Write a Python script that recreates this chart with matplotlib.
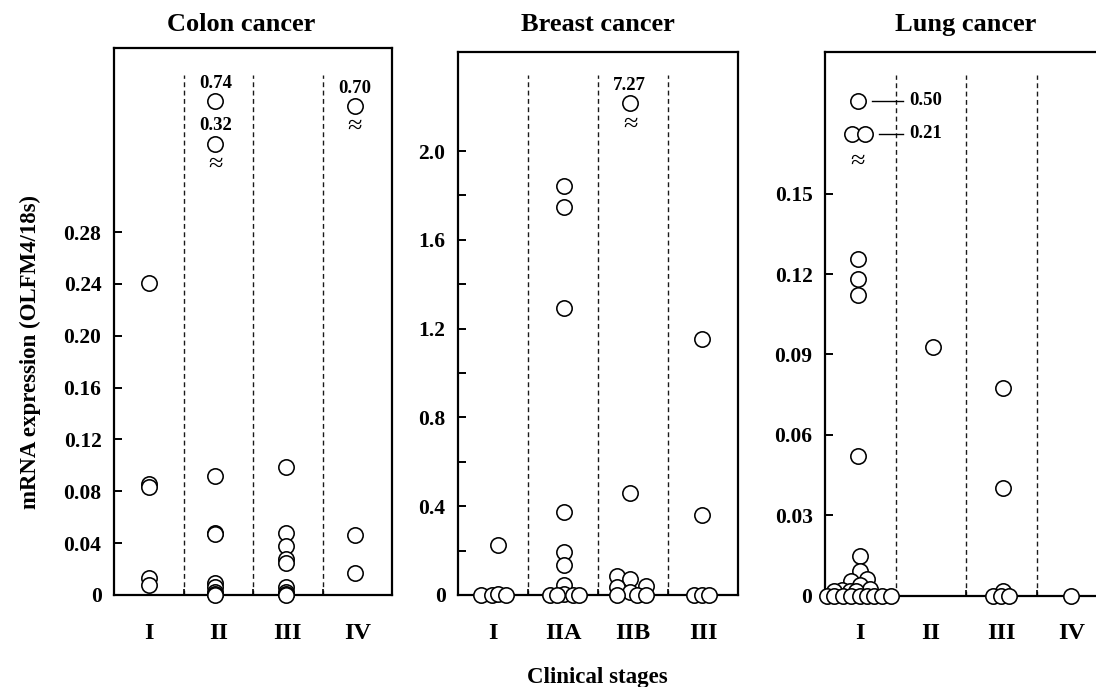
"""
OLFM4 mRNA expression by clinical stage, three cancer types
(dot plots with broken axes for the outliers)
"""
import matplotlib

matplotlib.use("Agg")
import matplotlib.pyplot as plt

plt.rcParams["font.family"] = ["Liberation Serif", "DejaVu Serif"]
plt.rcParams["font.weight"] = "bold"

# %% data

colon_stages = ["I", "II", "III", "IV"]
colon_I = [0.241, 0.086, 0.083, 0.013, 0.008]
colon_II = [0.092, 0.048, 0.047, 0.0095, 0.0064, 0.0026, 0.0005, 0.0]
colon_III = [0.099, 0.048, 0.038, 0.028, 0.025, 0.0064, 0.002, 0.0005, 0.0]
colon_IV = [0.046, 0.017]
colon_outliers = {2: [0.74, 0.32], 4: [0.70]}

breast_stages = ["I", "IIA", "IIB", "III"]
breast_I = [0.225, 0.0, 0.0, 0.004, 0.0]
breast_IIA = [1.842, 1.749, 1.294, 0.372, 0.192, 0.135, 0.045, 0.005, 0.0, 0.0, 0.0, 0.0]
breast_IIB = [0.461, 0.086, 0.071, 0.038, 0.040, 0.012, 0.0, 0.0, 0.0]
breast_III = [1.152, 0.359, 0.0, 0.0, 0.0]
breast_outliers = {3: [7.27]}

lung_stages = ["I", "II", "III", "IV"]
lung_I = [0.1256, 0.1181, 0.1122, 0.0521, 0.0148, 0.0090, 0.0062, 0.0055,
          0.0040, 0.0026, 0.0020, 0.0018, 0.0017, 0.0015,
          0.0, 0.0, 0.0, 0.0, 0.0, 0.0, 0.0, 0.0, 0.0]
lung_II = [0.0926]
lung_III = [0.0774, 0.0402, 0.0015, 0.0, 0.0, 0.0]
lung_IV = [0.0]
lung_outliers = {1: [0.50, 0.21, 0.21]}

# horizontal spread of the dots (fraction of a stage column)
colon_jit = [[0.0] * 5, [-0.04] * 8, [-0.03] * 9, [-0.03] * 2]
breast_jit = [
    [0.07, -0.17, -0.01, 0.07, 0.19],
    [0.01] * 8 + [-0.19, -0.08, 0.14, 0.23],
    [-0.04, -0.23, -0.04, -0.23, 0.19, -0.04, -0.23, 0.06, 0.19],
    [-0.01, -0.01, -0.13, -0.01, 0.09],
]
lung_jit = [
    [-0.03] * 4 + [-0.01, -0.01, 0.10, -0.13, 0.0, 0.14, -0.26, -0.37, -0.14, -0.06,
                   -0.47, -0.37, -0.24, -0.13, -0.01, 0.09, 0.20, 0.31, 0.43],
    [0.03],
    [0.03, 0.03, 0.03, -0.11, -0.01, 0.11],
    [-0.01],
]

# where the off-scale points sit above the axis break
colon_out_y = {2: [0.381, 0.348], 4: [0.377]}
colon_out_jit = {2: [-0.04, -0.04], 4: [-0.03]}
colon_break_y = {2: 0.332, 4: 0.361}
breast_out_y = {3: [2.215]}
breast_out_jit = {3: [-0.05]}
breast_break_y = {3: 2.117}
lung_out_y = {1: [0.1847, 0.1723, 0.1723]}
lung_out_jit = {1: [-0.03, -0.12, 0.07]}
lung_break_y = {1: 0.162}

# %% figure

W, H = 1096, 687
fig = plt.figure(figsize=(W / 100, H / 100), dpi=100)
DASH_TOP = 75  # px from top where the stage separators start


def add_panel(left, top, right, bottom):
    ax = fig.add_axes([left / W, 1 - bottom / H, (right - left) / W, (bottom - top) / H])
    ax.dash_ymax = (bottom - DASH_TOP) / (bottom - top)
    return ax


def dots(ax, x, y):
    ax.scatter(x, y, s=122, facecolor="white", edgecolor="black",
               linewidth=1.15, clip_on=False, zorder=5)


def draw_panel(ax, stages, groups, jit, ylim, yticks, ylabels):
    for i, (vals, offs) in enumerate(zip(groups, jit), start=1):
        dots(ax, [i + o for o in offs], vals)
    for xd in (1.5, 2.5, 3.5):
        ax.axvline(xd, ymin=0, ymax=ax.dash_ymax, color="0.1",
                   linestyle=(0, (3.5, 2.5)), linewidth=1.0, zorder=1)
    ax.set_xlim(0.5, 4.5)
    ax.set_ylim(*ylim)
    ax.set_xticks(range(1, 5))
    ax.set_xticklabels(stages, fontsize=17.5)
    ax.set_xticks([1.5, 2.5, 3.5], minor=True)
    ax.tick_params(axis="x", which="major", length=0, pad=20)
    ax.tick_params(axis="x", which="minor", length=4, width=1.2, direction="in")
    ax.set_yticks(yticks)
    ax.set_yticklabels(ylabels, fontsize=15.5)
    ax.tick_params(axis="y", length=6, width=1.4, direction="in", pad=9)
    for spine in ax.spines.values():
        spine.set_linewidth(1.6)


def draw_outliers(ax, outliers, out_y, out_jit, break_y, label_above=True):
    for stage, vals in outliers.items():
        xs = [stage + o for o in out_jit[stage]]
        dots(ax, xs, out_y[stage])
        ax.text(stage - 0.04, break_y[stage], "\u2248", fontsize=19,
                ha="center", va="center", fontweight="normal")
        if label_above:
            for x, y, v in zip(xs, out_y[stage], vals):
                ax.annotate(f"{v:.2f}", (x, y), xytext=(0, 13), textcoords="offset points",
                            ha="center", va="center", fontsize=13.5)


# colon
ax1 = add_panel(114, 48, 392, 595)
draw_panel(ax1, colon_stages, [colon_I, colon_II, colon_III, colon_IV], colon_jit,
           (0, 0.422), [0, 0.04, 0.08, 0.12, 0.16, 0.20, 0.24, 0.28],
           ["0", "0.04", "0.08", "0.12", "0.16", "0.20", "0.24", "0.28"])
draw_outliers(ax1, colon_outliers, colon_out_y, colon_out_jit, colon_break_y)

# breast
ax2 = add_panel(458, 52, 738, 595)
draw_panel(ax2, breast_stages, [breast_I, breast_IIA, breast_IIB, breast_III], breast_jit,
           (0, 2.446), [0, 0.2, 0.4, 0.6, 0.8, 1.0, 1.2, 1.4, 1.6, 1.8, 2.0],
           ["0", "", "0.4", "", "0.8", "", "1.2", "", "1.6", "", "2.0"])
draw_outliers(ax2, breast_outliers, breast_out_y, breast_out_jit, breast_break_y)

# lung (right border runs past the image edge, as in the original)
ax3 = add_panel(825, 52, 1107, 595.5)
draw_panel(ax3, lung_stages, [lung_I, lung_II, lung_III, lung_IV], lung_jit,
           (0, 0.2029), [0, 0.03, 0.06, 0.09, 0.12, 0.15],
           ["0", "0.03", "0.06", "0.09", "0.12", "0.15"])
draw_outliers(ax3, lung_outliers, lung_out_y, lung_out_jit, lung_break_y, label_above=False)
# leader lines for the lung outliers
x50, x21 = 1 + lung_out_jit[1][0], 1 + lung_out_jit[1][2]
for xs, y, v in [(x50, lung_out_y[1][0], lung_outliers[1][0]),
                 (x21, lung_out_y[1][2], lung_outliers[1][2])]:
    ax3.plot([xs + 0.19, 1.6], [y, y], color="black", linewidth=1.0, zorder=4)
    ax3.text(1.7, y, f"{v:.2f}", ha="left", va="center", fontsize=13.5)

# titles and axis labels
for name, xc in [("Colon cancer", 241), ("Breast cancer", 598), ("Lung cancer", 966)]:
    fig.text(xc / W, 1 - 31 / H, name, ha="center", va="baseline", fontsize=19)
fig.text(30 / W, 1 - 352 / H, "mRNA expression (OLFM4/18s)", rotation=90,
         ha="center", va="center", fontsize=16.5)
fig.text(597 / W, 1 - 677 / H, "Clinical stages", ha="center", va="center", fontsize=16.5)

fig.savefig("out.png", dpi=100)
